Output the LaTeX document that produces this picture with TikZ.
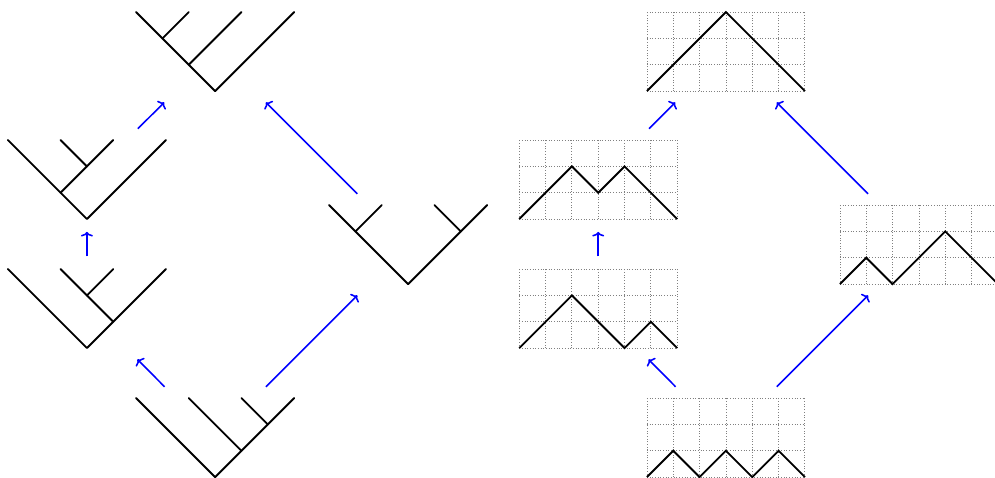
\documentclass[tikz,border=0pt]{standalone}
\usepackage{amsmath}
\usepackage{tikz}
\usetikzlibrary{calc}
\usetikzlibrary{arrows.meta}
\tikzset{
  slot/.style={draw=none, minimum width=6.58cm, minimum height=3.58cm, inner sep=0pt},
  tree/.style={line width=2pt, line cap=round, line join=round},
  path/.style={line width=2pt, line join=miter},
  lattice/.style={gray, dotted, line width=0.9pt},
  move/.style={-{To[length=5pt, width=13pt]}, blue, line width=1.7pt, shorten >=0.19cm, shorten <=0.19cm}
}
\begin{document}
\begin{tikzpicture}
			\useasboundingbox (0,0) rectangle (37.79,18.15);
			% binary trees
			\node[slot] (ttop) at (8.17,16.19) {};
			\node[slot] (tmid) at (3.30,11.33) {};
			\node[slot] (tlow) at (3.30,6.43) {};
			\node[slot] (tside) at (15.50,8.86) {};
			\node[slot] (tbot) at (8.17,1.53) {};
			% dyck paths
			\node[slot] (dtop) at (27.57,16.19) {};
			\node[slot] (dmid) at (22.72,11.33) {};
			\node[slot] (dlow) at (22.72,6.43) {};
			\node[slot] (dside) at (34.90,8.86) {};
			\node[slot] (dbot) at (27.57,1.53) {};
			\begin{scope}[shift={(ttop.center)}]
				\draw[tree] (-3,1.5) -- (0,-1.5) -- (3,1.5);
				\draw[tree] (-2,0.5) -- (-1,1.5);
				\draw[tree] (-1,-0.5) -- (1,1.5);
			\end{scope}
			\begin{scope}[shift={(tmid.center)}]
				\draw[tree] (-3,1.5) -- (0,-1.5) -- (3,1.5);
				\draw[tree] (-1,-0.5) -- (1,1.5);
				\draw[tree] (0,0.5) -- (-1,1.5);
			\end{scope}
			\begin{scope}[shift={(tlow.center)}]
				\draw[tree] (-3,1.5) -- (0,-1.5) -- (3,1.5);
				\draw[tree] (1,-0.5) -- (-1,1.5);
				\draw[tree] (0,0.5) -- (1,1.5);
			\end{scope}
			\begin{scope}[shift={(tside.center)}]
				\draw[tree] (-3,1.5) -- (0,-1.5) -- (3,1.5);
				\draw[tree] (-2,0.5) -- (-1,1.5);
				\draw[tree] (2,0.5) -- (1,1.5);
			\end{scope}
			\begin{scope}[shift={(tbot.center)}]
				\draw[tree] (-3,1.5) -- (0,-1.5) -- (3,1.5);
				\draw[tree] (1,-0.5) -- (-1,1.5);
				\draw[tree] (2,0.5) -- (1,1.5);
			\end{scope}
			\foreach \d in {dtop, dmid, dlow, dside, dbot}{
				\draw[lattice, shift={($(\d.center)+(-3,-1.5)$)}] (0,0) grid (6,3);
			}
			\draw[path, shift={(dtop.center)}] (-3,-1.5) -- (0,1.5) -- (3,-1.5);
			\draw[path, shift={(dmid.center)}] (-3,-1.5) -- (-1,0.5) -- (0,-0.5) -- (1,0.5) -- (3,-1.5);
			\draw[path, shift={(dlow.center)}] (-3,-1.5) -- (-1,0.5) -- (1,-1.5) -- (2,-0.5) -- (3,-1.5);
			\draw[path, shift={(dside.center)}] (-3,-1.5) -- (-2,-0.5) -- (-1,-1.5) -- (1,0.5) -- (3,-1.5);
			\draw[path, shift={(dbot.center)}] (-3,-1.5) -- (-2,-0.5) -- (-1,-1.5) -- (0,-0.5) -- (1,-1.5) -- (2,-0.5) -- (3,-1.5);
			% rotations
			\draw[move] (tmid) -- (ttop);
			\draw[move] (tside) -- (ttop);
			\draw[move] (tlow) -- (tmid);
			\draw[move] (tbot) -- (tlow);
			\draw[move] (tbot) -- (tside);
			\draw[move] (dmid) -- (dtop);
			\draw[move] (dside) -- (dtop);
			\draw[move] (dlow) -- (dmid);
			\draw[move] (dbot) -- (dlow);
			\draw[move] (dbot) -- (dside);
\end{tikzpicture}
\end{document}
